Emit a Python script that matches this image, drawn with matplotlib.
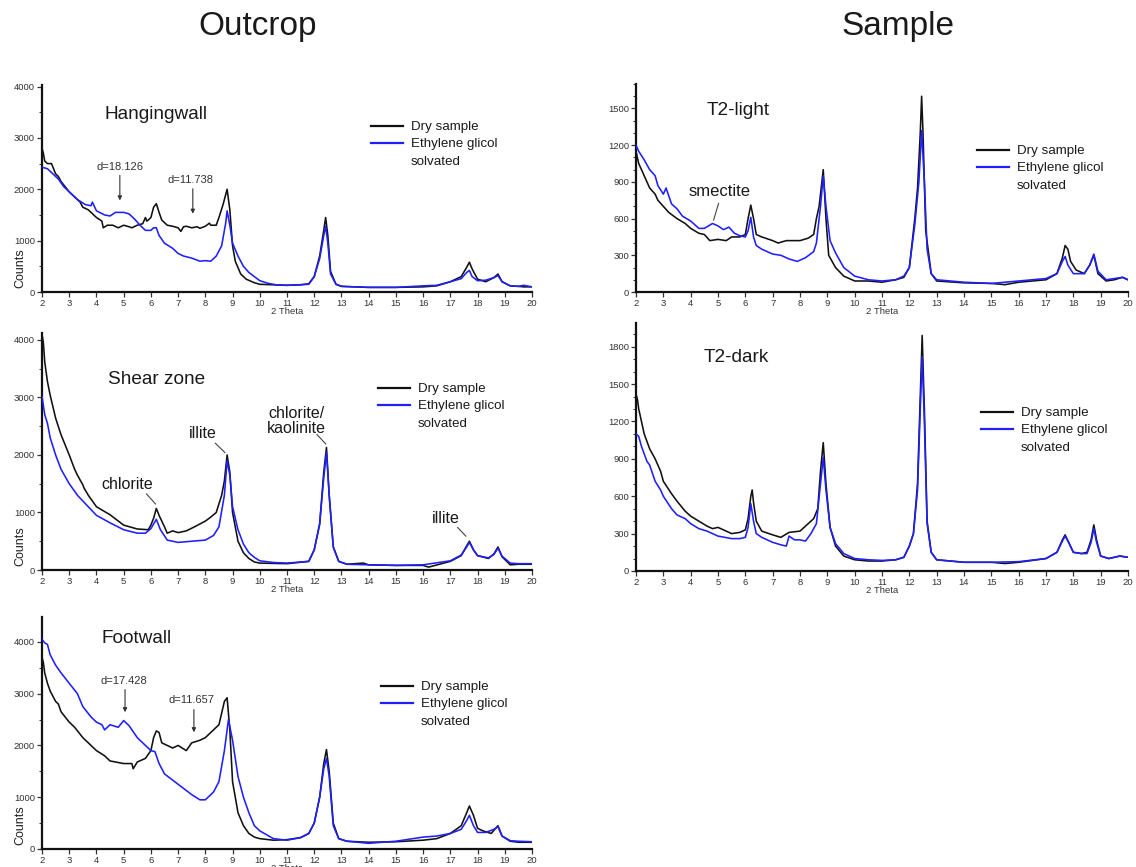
import matplotlib
matplotlib.use("Agg")
import matplotlib.pyplot as plt
from matplotlib.ticker import MultipleLocator
from matplotlib.lines import Line2D

plt.rcParams['font.family'] = ['Liberation Sans', 'DejaVu Sans']

# ---------------- data ----------------
# Hangingwall
hw_dry_x = [2.0, 2.05, 2.1, 2.2, 2.35, 2.5, 2.6, 2.7, 2.85, 3.0, 3.2, 3.4, 3.5, 3.7, 3.8, 4.0, 4.2, 4.25, 4.4, 4.6, 4.8, 5.0,
            5.2, 5.3, 5.5, 5.7, 5.8, 5.85, 5.9, 6.0, 6.1, 6.2, 6.3, 6.4, 6.6, 6.8, 7.0, 7.1, 7.2, 7.3, 7.5, 7.7, 7.8,
            8.0, 8.15, 8.2, 8.4, 8.5, 8.65, 8.75, 8.8, 8.9, 9.0, 9.1, 9.3, 9.5, 9.8, 10.0, 10.5, 11.0, 11.5, 11.8,
            12.0, 12.2, 12.35, 12.42, 12.5, 12.6, 12.8, 13.0, 14.0, 15.0, 16.0, 16.5, 17.0, 17.4, 17.6, 17.7, 17.8,
            18.0, 18.3, 18.6, 18.75, 18.9, 19.2, 19.5, 19.7, 20.0]
hw_dry_y = [2800, 2700, 2550, 2500, 2500, 2300, 2250, 2150, 2050, 1950, 1850, 1750, 1650, 1600, 1550, 1450, 1380, 1250, 1300,
            1300, 1250, 1300, 1270, 1250, 1300, 1330, 1450, 1380, 1400, 1450, 1650, 1720, 1550, 1400, 1300, 1280, 1250, 1180,
            1270, 1280, 1250, 1270, 1240, 1280, 1340, 1300, 1300, 1450, 1700, 1900, 2000, 1600, 900, 600, 350, 250, 180, 150,
            140, 130, 140, 160, 300, 700, 1200, 1450, 1100, 400, 150, 110, 90, 90, 100, 120, 200, 300, 480, 580, 450,
            250, 200, 280, 350, 200, 120, 110, 100, 100]
hw_eg_x = [2.0, 2.2, 2.5, 2.6, 2.8, 3.0, 3.3, 3.6, 3.8, 3.85, 4.0, 4.3, 4.5, 4.7, 5.0, 5.2, 5.4, 5.6, 5.8, 6.0, 6.1, 6.2,
           6.3, 6.5, 6.8, 7.0, 7.2, 7.5, 7.8, 8.0, 8.2, 8.4, 8.6, 8.75, 8.8, 8.9, 9.0, 9.2, 9.4, 9.6, 9.8, 10.0, 10.3,
           10.6, 11.0, 11.8, 12.0, 12.2, 12.35, 12.42, 12.5, 12.6, 12.8, 13.0, 14.0, 15.0, 16.0, 16.5, 17.0, 17.4,
           17.6, 17.7, 17.8, 18.0, 18.3, 18.6, 18.75, 18.9, 19.2, 19.5, 19.7, 20.0]
hw_eg_y = [2430, 2400, 2250, 2200, 2050, 1950, 1800, 1700, 1680, 1750, 1580, 1500, 1480, 1550, 1550, 1520, 1420, 1300,
           1200, 1200, 1250, 1250, 1100, 950, 850, 750, 700, 660, 600, 610, 600, 700, 900, 1350, 1580, 1300, 950, 700,
           500, 380, 300, 220, 170, 140, 130, 150, 300, 650, 1100, 1280, 950, 350, 150, 110, 90, 90, 120, 130, 200, 260,
           380, 420, 300, 220, 230, 280, 320, 200, 120, 110, 130, 100]

# Shear zone
sz_dry_x = [2.0, 2.05, 2.1, 2.2, 2.3, 2.5, 2.7, 3.0, 3.2, 3.3, 3.5, 3.55, 3.7, 4.0, 4.5, 5.0, 5.5, 5.9, 6.0, 6.1, 6.2,
            6.3, 6.5, 6.6, 6.8, 7.0, 7.3, 7.6, 8.0, 8.2, 8.4, 8.6, 8.7, 8.8, 8.9, 9.0, 9.2, 9.4, 9.6, 9.8, 10.0, 11.0,
            11.8, 12.0, 12.2, 12.35, 12.45, 12.55, 12.7, 12.9, 13.2, 13.8, 14.0, 15.0, 16.0, 16.2, 17.0, 17.4, 17.6,
            17.7, 17.85, 18.0, 18.4, 18.6, 18.75, 18.9, 19.2, 19.5, 20.0]
sz_dry_y = [4100, 3950, 3620, 3275, 3040, 2640, 2350, 2000, 1750, 1650, 1480, 1420, 1300, 1100, 960, 780, 713, 700, 780,
            900, 1070, 950, 750, 640, 680, 650, 680, 750, 850, 920, 1000, 1300, 1550, 2000, 1700, 1000, 500, 300, 200,
            140, 120, 110, 150, 350, 800, 1700, 2130, 1300, 400, 150, 100, 120, 90, 80, 80, 50, 150, 250, 420, 500, 350,
            250, 200, 280, 400, 230, 90, 100, 100]
sz_eg_x = [2.0, 2.1, 2.2, 2.3, 2.5, 2.7, 3.0, 3.3, 3.5, 4.0, 4.5, 5.0, 5.5, 5.8, 6.0, 6.2, 6.35, 6.6, 7.0, 7.5, 8.0, 8.3,
           8.5, 8.7, 8.8, 8.9, 9.0, 9.2, 9.4, 9.6, 9.8, 10.0, 10.5, 11.0, 11.8, 12.0, 12.2, 12.35, 12.45, 12.55, 12.7,
           12.9, 13.2, 14.0, 15.0, 16.0, 17.0, 17.4, 17.6, 17.7, 17.85, 18.0, 18.4, 18.6, 18.75, 18.9, 19.2, 19.5, 20.0]
sz_eg_y = [3020, 2700, 2550, 2300, 2000, 1750, 1500, 1300, 1200, 950, 820, 700, 640, 640, 720, 880, 700, 520, 480, 500,
           520, 600, 750, 1300, 1900, 1650, 1100, 700, 450, 300, 220, 160, 130, 120, 150, 350, 800, 1600, 2050, 1300,
           400, 150, 100, 90, 80, 90, 160, 260, 400, 480, 350, 250, 210, 270, 380, 240, 120, 110, 110]

# Footwall
fw_dry_x = [2.0, 2.05, 2.1, 2.2, 2.3, 2.5, 2.6, 2.7, 3.0, 3.2, 3.5, 3.8, 4.0, 4.3, 4.5, 5.0, 5.3, 5.35, 5.5, 5.8, 6.0,
            6.1, 6.2, 6.3, 6.4, 6.6, 6.8, 7.0, 7.3, 7.5, 7.8, 8.0, 8.3, 8.5, 8.7, 8.8, 8.9, 9.0, 9.2, 9.4, 9.6, 9.8,
            10.0, 10.5, 11.0, 11.5, 11.8, 12.0, 12.2, 12.35, 12.45, 12.55, 12.7, 12.9, 13.2, 14.0, 15.0, 16.0, 16.5,
            17.0, 17.4, 17.6, 17.7, 17.85, 18.0, 18.2, 18.5, 18.7, 18.75, 18.9, 19.2, 19.5, 20.0]
fw_dry_y = [3700, 3600, 3400, 3200, 3050, 2850, 2800, 2650, 2450, 2350, 2150, 2000, 1900, 1800, 1700, 1650, 1650, 1550,
            1680, 1750, 1900, 2150, 2280, 2250, 2050, 2000, 1950, 2000, 1900, 2050, 2100, 2150, 2300, 2400, 2850, 2920,
            2300, 1300, 700, 450, 300, 230, 200, 170, 180, 220, 300, 500, 1000, 1650, 1920, 1500, 500, 200, 150, 130,
            140, 170, 200, 300, 450, 700, 830, 650, 400, 350, 300, 420, 450, 250, 150, 130, 130]
fw_eg_x = [2.0, 2.1, 2.2, 2.3, 2.5, 2.7, 3.0, 3.3, 3.5, 3.8, 4.0, 4.2, 4.3, 4.5, 4.8, 5.0, 5.2, 5.5, 5.8, 6.0, 6.15, 6.3,
           6.5, 7.0, 7.5, 7.8, 8.0, 8.3, 8.5, 8.7, 8.85, 9.0, 9.2, 9.4, 9.6, 9.8, 10.0, 10.5, 11.0, 11.5, 11.8, 12.0,
           12.2, 12.35, 12.45, 12.55, 12.7, 12.9, 13.2, 14.0, 15.0, 16.0, 16.5, 17.0, 17.4, 17.6, 17.7, 17.85, 18.0,
           18.3, 18.6, 18.75, 18.9, 19.2, 19.5, 20.0]
fw_eg_y = [4050, 3980, 3950, 3750, 3550, 3400, 3200, 3000, 2750, 2550, 2450, 2400, 2300, 2400, 2350, 2480, 2380, 2150,
           2000, 1900, 1880, 1650, 1450, 1250, 1050, 950, 950, 1100, 1300, 1900, 2500, 2100, 1400, 1000, 700, 450, 350,
           200, 170, 220, 300, 500, 1000, 1550, 1750, 1400, 450, 200, 150, 110, 150, 230, 250, 300, 380, 550, 650, 450,
           320, 320, 380, 430, 250, 160, 150, 140]

# T2-light
tl_dry_x = [2.0, 2.1, 2.2, 2.4, 2.5, 2.7, 2.8, 3.0, 3.2, 3.5, 3.8, 4.0, 4.3, 4.5, 4.7, 5.0, 5.3, 5.5, 5.8, 6.0, 6.1, 6.2,
            6.3, 6.4, 6.6, 7.0, 7.2, 7.5, 8.0, 8.3, 8.5, 8.6, 8.7, 8.85, 8.95, 9.05, 9.3, 9.6, 10.0, 10.5, 11.0, 11.5,
            11.8, 12.0, 12.2, 12.3, 12.4, 12.45, 12.5, 12.6, 12.8, 13.0, 14.0, 15.0, 15.5, 16.0, 17.0, 17.4, 17.6,
            17.7, 17.8, 17.9, 18.1, 18.4, 18.6, 18.75, 18.9, 19.2, 19.5, 19.8, 20.0]
tl_dry_y = [1150, 1050, 1000, 900, 850, 800, 750, 700, 650, 600, 560, 520, 480, 470, 420, 430, 420, 450, 450, 470, 600,
            710, 600, 470, 450, 420, 400, 420, 420, 440, 470, 600, 700, 1000, 600, 300, 200, 130, 90, 90, 80, 100, 120,
            200, 600, 850, 1300, 1600, 1300, 500, 150, 90, 75, 70, 60, 80, 100, 150, 280, 380, 350, 250, 180, 150, 220,
            300, 150, 90, 100, 120, 100]
tl_eg_x = [2.0, 2.1, 2.3, 2.5, 2.7, 2.8, 3.0, 3.1, 3.3, 3.5, 3.7, 4.0, 4.3, 4.5, 4.8, 5.0, 5.2, 5.4, 5.6, 5.8, 6.0, 6.1,
           6.2, 6.3, 6.4, 6.6, 7.0, 7.3, 7.6, 7.9, 8.2, 8.5, 8.6, 8.75, 8.85, 8.95, 9.1, 9.3, 9.6, 10.0, 10.5, 11.0,
           11.5, 11.8, 12.0, 12.2, 12.35, 12.45, 12.55, 12.65, 12.8, 13.0, 14.0, 15.0, 16.0, 16.5, 17.0, 17.4, 17.6,
           17.7, 17.8, 18.0, 18.4, 18.6, 18.75, 18.9, 19.2, 19.5, 19.8, 20.0]
tl_eg_y = [1200, 1150, 1080, 1000, 950, 870, 800, 850, 720, 680, 620, 580, 520, 520, 560, 540, 510, 530, 480, 460, 450,
           500, 610, 450, 380, 350, 310, 300, 270, 250, 280, 330, 400, 700, 950, 700, 420, 320, 200, 130, 100, 90, 100,
           130, 200, 550, 900, 1320, 900, 350, 150, 100, 80, 70, 90, 100, 110, 150, 250, 290, 220, 150, 150, 220, 310,
           170, 100, 110, 120, 100]

# T2-dark
td_dry_x = [2.0, 2.05, 2.1, 2.2, 2.3, 2.5, 2.7, 2.9, 3.0, 3.3, 3.5, 3.8, 4.0, 4.3, 4.6, 4.8, 5.0, 5.5, 5.8, 6.0, 6.1,
            6.2, 6.25, 6.3, 6.4, 6.6, 7.0, 7.3, 7.6, 8.0, 8.3, 8.5, 8.65, 8.75, 8.85, 8.95, 9.1, 9.3, 9.6, 10.0, 10.5,
            11.0, 11.5, 11.8, 12.0, 12.15, 12.3, 12.4, 12.47, 12.55, 12.65, 12.8, 13.0, 14.0, 15.0, 15.5, 16.0, 17.0,
            17.4, 17.6, 17.7, 17.85, 18.0, 18.3, 18.5, 18.65, 18.75, 18.85, 19.0, 19.3, 19.7, 20.0]
td_dry_y = [1420, 1380, 1300, 1200, 1100, 980, 900, 800, 720, 620, 560, 480, 440, 400, 360, 340, 350, 300, 310, 330, 420,
            600, 650, 550, 400, 320, 290, 270, 310, 320, 380, 420, 500, 800, 1030, 700, 350, 200, 120, 90, 80, 80, 90,
            110, 200, 300, 700, 1400, 1890, 1300, 400, 150, 90, 70, 70, 60, 70, 100, 150, 250, 290, 220, 150, 140, 150,
            250, 370, 250, 120, 100, 120, 110]
td_eg_x = [2.0, 2.1, 2.2, 2.4, 2.5, 2.7, 2.9, 3.0, 3.3, 3.5, 3.8, 4.0, 4.3, 4.6, 5.0, 5.5, 5.8, 6.0, 6.1, 6.2, 6.3, 6.4,
           6.6, 7.0, 7.3, 7.5, 7.6, 7.8, 8.0, 8.2, 8.4, 8.6, 8.75, 8.85, 8.95, 9.1, 9.3, 9.6, 10.0, 10.5, 11.0, 11.5,
           11.8, 12.0, 12.15, 12.3, 12.4, 12.47, 12.55, 12.65, 12.8, 13.0, 14.0, 15.0, 16.0, 17.0, 17.4, 17.6, 17.7,
           17.85, 18.0, 18.3, 18.5, 18.65, 18.75, 18.85, 19.0, 19.3, 19.7, 20.0]
td_eg_y = [1100, 1080, 1000, 880, 850, 720, 650, 600, 500, 450, 420, 380, 340, 320, 280, 260, 260, 270, 350, 540, 400,
           300, 270, 230, 210, 200, 280, 250, 250, 240, 300, 380, 700, 910, 650, 350, 220, 140, 100, 90, 85, 90, 110,
           200, 300, 650, 1300, 1720, 1200, 380, 150, 90, 70, 70, 75, 100, 150, 240, 280, 220, 150, 140, 140, 230, 340,
           230, 120, 100, 120, 110]

x_ticks = list(range(2, 21))
legend_labels = ["Dry sample", "Ethylene glicol", "solvated"]
column_titles = ["Outcrop", "Sample"]

# ---------------- figure ----------------
W, H = 1136, 867
fig = plt.figure(figsize=(W / 100, H / 100), dpi=100)


def rect(left, top, right, bottom):
    return [left / W, 1 - bottom / H, (right - left) / W, (bottom - top) / H]


DRY_C = '#111111'
EG_C = '#1f1fff'
TXT_C = '#1a1a1a'


def make_panel(r, ymax, major, minor, title, title_px, leg_px, dry, eg, counts=True):
    ax = fig.add_axes(rect(*r))
    ld, = ax.plot(dry[0], dry[1], color=DRY_C, lw=1.15, zorder=3)
    le, = ax.plot(eg[0], eg[1], color=EG_C, lw=1.15, zorder=3)
    ax.set_xlim(2, 20)
    ax.set_ylim(0, ymax)
    ax.set_xticks(x_ticks)
    ax.yaxis.set_major_locator(MultipleLocator(major))
    ax.yaxis.set_minor_locator(MultipleLocator(minor))
    for s in ['top', 'right']:
        ax.spines[s].set_visible(False)
    for s in ['left', 'bottom']:
        ax.spines[s].set_linewidth(1.6)
        ax.spines[s].set_color('#111111')
    ax.tick_params(axis='both', which='major', direction='out', length=3.5, width=0.9,
                   labelsize=6.8, labelcolor='#333333', pad=1.5, color='#333333')
    ax.tick_params(axis='y', which='minor', direction='out', length=2.5, width=0.7, color='#333333')
    ax.set_xlabel("2 Theta", fontsize=6.8, color='#333333', labelpad=-1)
    if counts:
        ax.text(-22 / (r[2] - r[0]), 4 / (r[3] - r[1]), "Counts", transform=ax.transAxes,
                rotation=90, fontsize=9, color='#222222', ha='center', va='bottom')
    fig.text(title_px[0] / W, 1 - title_px[1] / H, title, fontsize=13.7, color=TXT_C,
             ha='left', va='baseline')
    blank = Line2D([], [], color='none')
    leg = ax.legend([ld, le, blank], legend_labels, loc='upper left',
                    bbox_to_anchor=(leg_px[0] / W, 1 - leg_px[1] / H), bbox_transform=fig.transFigure,
                    frameon=False, fontsize=9.6, handlelength=2.4, handletextpad=0.6,
                    labelspacing=0.36, borderpad=0, borderaxespad=0, labelcolor=TXT_C)
    for line in leg.get_lines()[:2]:
        line.set_linewidth(1.6)
    return ax


def arrow(ax, x, y0, y1, label, tx, ty):
    ax.annotate('', xy=(x, y1), xytext=(x, y0),
                arrowprops=dict(arrowstyle='-|>', color='#333333', lw=0.8, mutation_scale=6,
                                shrinkA=0, shrinkB=0))
    ax.text(tx, ty, label, fontsize=8, color='#333333', ha='center', va='center')


def pointer(ax, x0, y0, x1, y1, label, tx, ty, fs=11.5):
    ax.plot([x0, x1], [y0, y1], color='#444444', lw=0.8)
    ax.text(tx, ty, label, fontsize=fs, color=TXT_C, ha='center', va='center', linespacing=1.05)


# Hangingwall
ax1 = make_panel((42, 85, 532, 292), 4030, 1000, 500, "Hangingwall", (104, 119),
                 (371, 121), (hw_dry_x, hw_dry_y), (hw_eg_x, hw_eg_y))
arrow(ax1, 4.86, 2270, 1783, "d=18.126", 4.87, 2440)
arrow(ax1, 7.54, 2010, 1524, "d=11.738", 7.44, 2185)

# Shear zone
ax2 = make_panel((42, 333, 532, 570), 4120, 1000, 500, "Shear zone", (108, 384),
                 (378, 383), (sz_dry_x, sz_dry_y), (sz_eg_x, sz_eg_y))
pointer(ax2, 5.84, 1322, 6.17, 1148, "chlorite", 5.12, 1490)
pointer(ax2, 8.37, 2203, 8.72, 2041, "illite", 7.92, 2377)
pointer(ax2, 12.1, 2355, 12.42, 2193, "chlorite/\nkaolinite", 11.34, 2590)
pointer(ax2, 17.27, 739, 17.57, 589, "illite", 16.82, 895)

# Footwall
ax3 = make_panel((42, 617, 532, 849), 4480, 1000, 500, "Footwall", (101, 643),
                 (381, 681), (fw_dry_x, fw_dry_y), (fw_eg_x, fw_eg_y))
arrow(ax3, 5.05, 3079, 2641, "d=17.428", 5.02, 3240)
arrow(ax3, 7.58, 2692, 2254, "d=11.657", 7.48, 2886)

# T2-light
ax4 = make_panel((636, 84, 1128, 292), 1700, 300, 100, "T2-light", (707, 115),
                 (977, 145), (tl_dry_x, tl_dry_y), (tl_eg_x, tl_eg_y), counts=False)
pointer(ax4, 5.02, 724, 4.84, 588, "smectite", 5.05, 819, fs=12)

# T2-dark
ax5 = make_panel((636, 323, 1128, 571), 1990, 300, 100, "T2-dark", (704, 362),
                 (981, 407), (td_dry_x, td_dry_y), (td_eg_x, td_eg_y), counts=False)

fig.text(258 / W, 1 - 26 / H, column_titles[0], fontsize=24, color=TXT_C, ha='center', va='center')
fig.text(898 / W, 1 - 26 / H, column_titles[1], fontsize=24, color=TXT_C, ha='center', va='center')

fig.savefig("out.png", dpi=100)
